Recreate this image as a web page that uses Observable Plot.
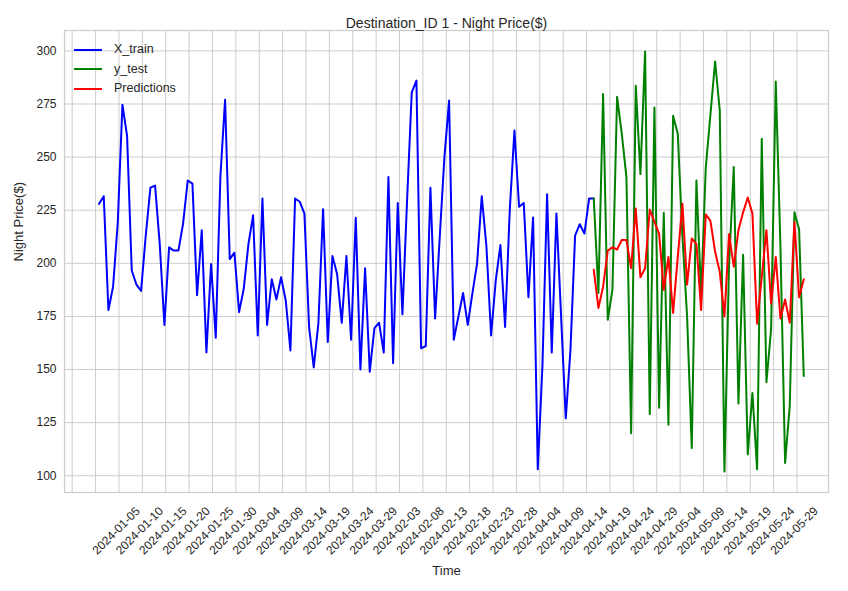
<!DOCTYPE html>
<html><head><meta charset="utf-8">
<script src="https://cdn.jsdelivr.net/npm/d3@7"></script>
<script src="https://cdn.jsdelivr.net/npm/@observablehq/plot@0.6"></script>
<style>
body{margin:0;background:#fff;font-family:"Liberation Sans",Arial,sans-serif;}
#wrap{position:relative;width:848px;height:591px;}
#legend{position:absolute;left:74px;top:40px;font-size:12.5px;color:#262626;line-height:19.5px;}
#legend div{display:flex;align-items:center;}
#legend span.sw{display:inline-block;width:28px;height:2px;margin-right:12px;}
</style></head><body>
<div id="wrap"><div id="legend"></div></div>
<script>
const trainValues = [228,231.6,178,189,219,274.7,260,196.6,190,187,213,235.6,236.6,209,171,207.5,206,206,218.7,239,237.5,185,215.6,158,199.7,165,241,277,202,205,177,188,209,222.6,166,230.5,171,192.5,183,193.4,182.5,159,230.5,229,223.4,170,151,172,225.5,163,203.4,195,172,203.4,164,221.4,150,197.7,149,169.5,172,158,240.6,153,228.4,176,229.7,280.5,286,160,161,235.6,174,212.5,250,276.6,164,175,186,171,186,200,231.6,208,166,192,208.6,170,225,262.5,226.6,228.4,184,221.6,103,151.6,232.5,158,223.4,175,127,159,213,218.4,214,230.5,230.5];
const testValues = [230.5,186,279.7,173.4,187.5,278.4,261,240.6,120,283.6,242,299.7,129,273.4,132,223.75,124,269.5,261,212.5,175,113,239,185,245,270,295,272,102,200,245.3,134,204,110,139,103,258.6,144,169,285.6,208,106,133,224,216,147];
const predValues = [197,179,189,206,207.5,206.5,211,211,197.7,225.8,193.4,197.7,225.3,219.5,214,187.5,203,176.6,203,228,190,211.7,209,178,223,220,205.5,196,175,213.75,198.4,215.6,224,231,223.4,171.6,193.75,215.6,181,203,174,183,172,219.5,184,192.5];
const tickLabels = ["","","2024-01-05","2024-01-10","2024-01-15","2024-01-20","2024-01-25","2024-01-30","2024-03-04","2024-03-09","2024-03-14","2024-03-19","2024-03-24","2024-03-29","2024-02-03","2024-02-08","2024-02-13","2024-02-18","2024-02-23","2024-02-28","2024-04-04","2024-04-09","2024-04-14","2024-04-19","2024-04-24","2024-04-29","2024-05-04","2024-05-09","2024-05-14","2024-05-19","2024-05-24","2024-05-29"];
const yTicks = [100,125,150,175,200,225,250,275,300];

const testStart = trainValues.length - 1;
const train = trainValues.map((v,i)=>({i,v}));
const test = testValues.map((v,k)=>({i:testStart+k,v}));
const pred = predValues.map((v,k)=>({i:testStart+k,v}));
const tickOffset = -5.76, tickStep = 5.01;
const ticks = tickLabels.map((label,k)=>({pos: tickOffset + k*tickStep, label}));

const chart = Plot.plot({
  width: 848, height: 591,
  marginLeft: 64, marginRight: 20, marginTop: 30, marginBottom: 99,
  style: {fontFamily: '"Liberation Sans", Arial, sans-serif', fontSize: "12px", color: "#262626", background: "#fff"},
  x: {domain: [-7.41, 156.3], axis: null},
  y: {domain: [92.1, 309.6], ticks: yTicks, tickSize: 0, tickPadding: 8, label: null},
  marks: [
    Plot.gridX(ticks.map(d=>d.pos), {stroke: "#cccccc", strokeOpacity: 1, strokeWidth: 1}),
    Plot.gridY(yTicks, {stroke: "#cccccc", strokeOpacity: 1, strokeWidth: 1}),
    Plot.frame({stroke: "#cccccc", strokeWidth: 1.25}),
    Plot.lineY(train, {x: "i", y: "v", stroke: "blue", strokeWidth: 2}),
    Plot.lineY(test, {x: "i", y: "v", stroke: "green", strokeWidth: 2}),
    Plot.lineY(pred, {x: "i", y: "v", stroke: "red", strokeWidth: 2}),
    Plot.text(ticks, {x: "pos", text: "label", frameAnchor: "bottom", dy: 41, rotate: -45, textAnchor: "middle", fontSize: 12, fill: "#262626"}),
    Plot.text(["Destination_ID 1 - Night Price($)"], {frameAnchor: "top", dy: -12, fontSize: 14, fill: "#262626"}),
    Plot.text(["Time"], {frameAnchor: "bottom", dy: 82, fontSize: 13, fill: "#262626"}),
    Plot.text(["Night Price($)"], {frameAnchor: "left", dx: -46, rotate: -90, fontSize: 13, fill: "#262626"})
  ]
});
document.getElementById("wrap").prepend(chart);
const leg = [["X_train","blue"],["y_test","green"],["Predictions","red"]];
document.getElementById("legend").innerHTML = leg.map(([n,c])=>`<div><span class="sw" style="background:${c}"></span>${n}</div>`).join("");
</script></body></html>
